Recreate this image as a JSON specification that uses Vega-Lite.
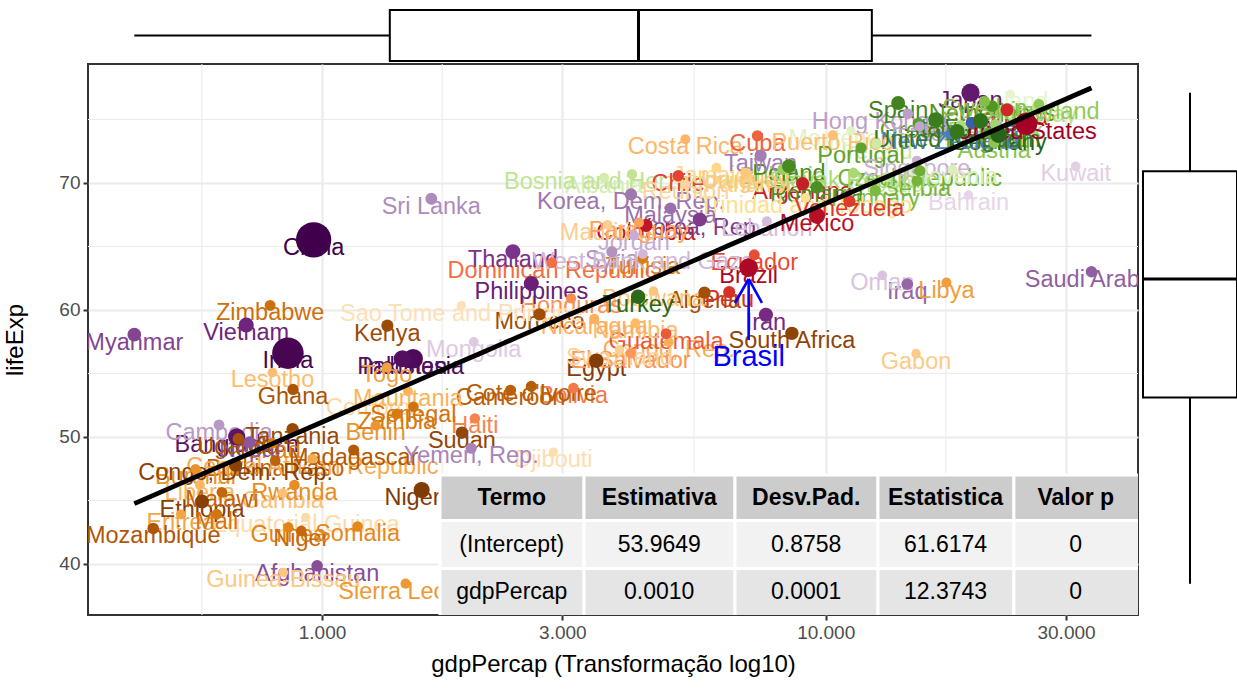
{
"$schema": "https://vega.github.io/schema/vega-lite/v6.json",
"background": "white",
"padding": {"left": 2, "top": 7, "right": 0, "bottom": 0},
"columns": 2,
"align": "each",
"bounds": "flush",
"spacing": {"row": 0, "column": 3},
"resolve": {"scale": {"x": "independent", "y": "independent", "color": "independent", "size": "independent"}},
"config": {
  "view": {"stroke": null},
  "font": "Liberation Sans",
  "axis": {"labelFont": "Liberation Sans", "titleFont": "Liberation Sans", "labelFontSize": 19, "labelColor": "#4D4D4D", "titleFontSize": 24, "titleFontWeight": "normal", "titleColor": "#000000", "tickColor": "#333333", "tickSize": 5, "tickWidth": 2, "domain": false, "gridColor": "#EBEBEB", "gridWidth": 2.2, "labelPadding": 3}
},
"datasets": {
  "countries": [
    {"country": "Afghanistan", "gdpPercap": 978.01, "lifeExp": 39.854, "pop": 12.88},
    {"country": "Albania", "gdpPercap": 3630.88, "lifeExp": 70.42, "pop": 2.78},
    {"country": "Algeria", "gdpPercap": 5745.16, "lifeExp": 61.368, "pop": 20.03},
    {"country": "Angola", "gdpPercap": 2756.95, "lifeExp": 39.942, "pop": 7.02},
    {"country": "Argentina", "gdpPercap": 8997.9, "lifeExp": 69.942, "pop": 29.34},
    {"country": "Australia", "gdpPercap": 19477.01, "lifeExp": 74.74, "pop": 15.18},
    {"country": "Austria", "gdpPercap": 21597.08, "lifeExp": 73.18, "pop": 7.57},
    {"country": "Bahrain", "gdpPercap": 19211.15, "lifeExp": 69.052, "pop": 0.38},
    {"country": "Bangladesh", "gdpPercap": 676.98, "lifeExp": 50.009, "pop": 93.07},
    {"country": "Belgium", "gdpPercap": 20979.85, "lifeExp": 73.93, "pop": 9.86},
    {"country": "Benin", "gdpPercap": 1277.9, "lifeExp": 50.904, "pop": 3.64},
    {"country": "Bolivia", "gdpPercap": 3156.51, "lifeExp": 53.859, "pop": 5.64},
    {"country": "Bosnia and Herzegovina", "gdpPercap": 4126.61, "lifeExp": 70.69, "pop": 4.17},
    {"country": "Botswana", "gdpPercap": 4551.14, "lifeExp": 61.484, "pop": 0.97},
    {"country": "Brazil", "gdpPercap": 7030.84, "lifeExp": 63.336, "pop": 128.96},
    {"country": "Bulgaria", "gdpPercap": 8224.19, "lifeExp": 71.08, "pop": 8.89},
    {"country": "Burkina Faso", "gdpPercap": 807.2, "lifeExp": 48.122, "pop": 6.63},
    {"country": "Burundi", "gdpPercap": 560.99, "lifeExp": 47.471, "pop": 4.58},
    {"country": "Cambodia", "gdpPercap": 624.48, "lifeExp": 50.957, "pop": 7.27},
    {"country": "Cameroon", "gdpPercap": 2367.98, "lifeExp": 53.678, "pop": 9.25},
    {"country": "Canada", "gdpPercap": 22898.79, "lifeExp": 75.76, "pop": 25.2},
    {"country": "Central African Republic", "gdpPercap": 956.75, "lifeExp": 48.295, "pop": 2.48},
    {"country": "Chad", "gdpPercap": 797.91, "lifeExp": 49.517, "pop": 4.88},
    {"country": "Chile", "gdpPercap": 5095.67, "lifeExp": 70.565, "pop": 11.49},
    {"country": "China", "gdpPercap": 962.42, "lifeExp": 65.525, "pop": 1000.28},
    {"country": "Colombia", "gdpPercap": 4397.58, "lifeExp": 66.653, "pop": 27.76},
    {"country": "Comoros", "gdpPercap": 1267.1, "lifeExp": 52.933, "pop": 0.42},
    {"country": "Congo, Dem. Rep.", "gdpPercap": 673.75, "lifeExp": 47.784, "pop": 30.65},
    {"country": "Congo, Rep.", "gdpPercap": 4879.51, "lifeExp": 57.47, "pop": 1.77},
    {"country": "Costa Rica", "gdpPercap": 5262.73, "lifeExp": 73.45, "pop": 2.42},
    {"country": "Cote d'Ivoire", "gdpPercap": 2602.66, "lifeExp": 53.983, "pop": 9.03},
    {"country": "Croatia", "gdpPercap": 13221.82, "lifeExp": 70.46, "pop": 4.41},
    {"country": "Cuba", "gdpPercap": 7316.92, "lifeExp": 73.717, "pop": 9.79},
    {"country": "Czech Republic", "gdpPercap": 15377.23, "lifeExp": 70.96, "pop": 10.3},
    {"country": "Denmark", "gdpPercap": 21688.04, "lifeExp": 74.63, "pop": 5.12},
    {"country": "Djibouti", "gdpPercap": 2879.47, "lifeExp": 48.812, "pop": 0.31},
    {"country": "Dominican Republic", "gdpPercap": 2861.09, "lifeExp": 63.727, "pop": 5.97},
    {"country": "Ecuador", "gdpPercap": 7213.79, "lifeExp": 64.342, "pop": 8.37},
    {"country": "Egypt", "gdpPercap": 3503.73, "lifeExp": 56.006, "pop": 45.68},
    {"country": "El Salvador", "gdpPercap": 4098.34, "lifeExp": 56.604, "pop": 4.47},
    {"country": "Equatorial Guinea", "gdpPercap": 927.83, "lifeExp": 43.662, "pop": 0.29},
    {"country": "Eritrea", "gdpPercap": 524.88, "lifeExp": 43.89, "pop": 2.64},
    {"country": "Ethiopia", "gdpPercap": 577.86, "lifeExp": 44.916, "pop": 38.11},
    {"country": "Finland", "gdpPercap": 18533.16, "lifeExp": 74.55, "pop": 4.83},
    {"country": "France", "gdpPercap": 20293.9, "lifeExp": 74.89, "pop": 54.43},
    {"country": "Gabon", "gdpPercap": 15113.36, "lifeExp": 56.564, "pop": 0.75},
    {"country": "Gambia", "gdpPercap": 835.81, "lifeExp": 45.58, "pop": 0.72},
    {"country": "Germany", "gdpPercap": 22031.53, "lifeExp": 73.8, "pop": 78.34},
    {"country": "Ghana", "gdpPercap": 876.03, "lifeExp": 53.744, "pop": 11.4},
    {"country": "Greece", "gdpPercap": 15268.42, "lifeExp": 74.7, "pop": 9.79},
    {"country": "Guatemala", "gdpPercap": 4820.49, "lifeExp": 58.137, "pop": 6.92},
    {"country": "Guinea", "gdpPercap": 857.25, "lifeExp": 42.891, "pop": 4.71},
    {"country": "Guinea-Bissau", "gdpPercap": 838.12, "lifeExp": 39.327, "pop": 0.83},
    {"country": "Haiti", "gdpPercap": 2011.16, "lifeExp": 51.461, "pop": 5.2},
    {"country": "Honduras", "gdpPercap": 3121.76, "lifeExp": 60.909, "pop": 3.67},
    {"country": "Hong Kong, China", "gdpPercap": 14560.53, "lifeExp": 75.45, "pop": 5.26},
    {"country": "Hungary", "gdpPercap": 12545.99, "lifeExp": 69.39, "pop": 10.71},
    {"country": "Iceland", "gdpPercap": 23269.61, "lifeExp": 76.99, "pop": 0.23},
    {"country": "India", "gdpPercap": 855.72, "lifeExp": 56.596, "pop": 708.0},
    {"country": "Indonesia", "gdpPercap": 1516.87, "lifeExp": 56.159, "pop": 153.34},
    {"country": "Iran", "gdpPercap": 7608.33, "lifeExp": 59.62, "pop": 43.07},
    {"country": "Iraq", "gdpPercap": 14517.91, "lifeExp": 62.038, "pop": 14.17},
    {"country": "Ireland", "gdpPercap": 12618.32, "lifeExp": 73.1, "pop": 3.48},
    {"country": "Israel", "gdpPercap": 15367.03, "lifeExp": 74.45, "pop": 3.86},
    {"country": "Italy", "gdpPercap": 16537.48, "lifeExp": 74.98, "pop": 56.54},
    {"country": "Jamaica", "gdpPercap": 6068.05, "lifeExp": 71.21, "pop": 2.3},
    {"country": "Japan", "gdpPercap": 19384.11, "lifeExp": 77.11, "pop": 118.45},
    {"country": "Jordan", "gdpPercap": 4161.42, "lifeExp": 65.869, "pop": 2.35},
    {"country": "Kenya", "gdpPercap": 1348.23, "lifeExp": 58.766, "pop": 17.66},
    {"country": "Korea, Dem. Rep.", "gdpPercap": 4106.53, "lifeExp": 69.1, "pop": 17.65},
    {"country": "Korea, Rep.", "gdpPercap": 5622.94, "lifeExp": 67.123, "pop": 39.33},
    {"country": "Kuwait", "gdpPercap": 31354.04, "lifeExp": 71.309, "pop": 1.5},
    {"country": "Lebanon", "gdpPercap": 7640.52, "lifeExp": 66.983, "pop": 3.09},
    {"country": "Lesotho", "gdpPercap": 797.26, "lifeExp": 55.078, "pop": 1.41},
    {"country": "Liberia", "gdpPercap": 572.2, "lifeExp": 46.218, "pop": 1.96},
    {"country": "Libya", "gdpPercap": 17364.28, "lifeExp": 62.155, "pop": 3.34},
    {"country": "Madagascar", "gdpPercap": 1155.44, "lifeExp": 48.97, "pop": 9.17},
    {"country": "Malawi", "gdpPercap": 632.8, "lifeExp": 45.642, "pop": 6.5},
    {"country": "Malaysia", "gdpPercap": 4920.36, "lifeExp": 68.0, "pop": 14.44},
    {"country": "Mali", "gdpPercap": 618.01, "lifeExp": 43.916, "pop": 7.0},
    {"country": "Mauritania", "gdpPercap": 1481.15, "lifeExp": 53.599, "pop": 1.62},
    {"country": "Mauritius", "gdpPercap": 3688.04, "lifeExp": 66.711, "pop": 0.99},
    {"country": "Mexico", "gdpPercap": 9611.15, "lifeExp": 67.405, "pop": 71.64},
    {"country": "Mongolia", "gdpPercap": 2000.6, "lifeExp": 57.489, "pop": 1.76},
    {"country": "Montenegro", "gdpPercap": 11222.59, "lifeExp": 74.101, "pop": 0.56},
    {"country": "Morocco", "gdpPercap": 2702.62, "lifeExp": 59.65, "pop": 20.2},
    {"country": "Mozambique", "gdpPercap": 462.21, "lifeExp": 42.795, "pop": 12.59},
    {"country": "Myanmar", "gdpPercap": 424.0, "lifeExp": 58.056, "pop": 34.68},
    {"country": "Namibia", "gdpPercap": 4191.1, "lifeExp": 58.968, "pop": 1.1},
    {"country": "Nepal", "gdpPercap": 718.37, "lifeExp": 49.594, "pop": 15.8},
    {"country": "Netherlands", "gdpPercap": 21399.46, "lifeExp": 76.05, "pop": 14.31},
    {"country": "New Zealand", "gdpPercap": 17632.41, "lifeExp": 73.84, "pop": 3.21},
    {"country": "Nicaragua", "gdpPercap": 3470.34, "lifeExp": 59.298, "pop": 2.98},
    {"country": "Niger", "gdpPercap": 909.72, "lifeExp": 42.598, "pop": 6.44},
    {"country": "Nigeria", "gdpPercap": 1576.97, "lifeExp": 45.826, "pop": 73.04},
    {"country": "Norway", "gdpPercap": 26298.64, "lifeExp": 75.97, "pop": 4.11},
    {"country": "Oman", "gdpPercap": 12954.79, "lifeExp": 62.728, "pop": 1.3},
    {"country": "Pakistan", "gdpPercap": 1443.43, "lifeExp": 56.158, "pop": 91.46},
    {"country": "Panama", "gdpPercap": 7009.6, "lifeExp": 70.472, "pop": 2.04},
    {"country": "Paraguay", "gdpPercap": 4258.5, "lifeExp": 66.874, "pop": 3.37},
    {"country": "Peru", "gdpPercap": 6434.5, "lifeExp": 61.406, "pop": 18.13},
    {"country": "Philippines", "gdpPercap": 2603.27, "lifeExp": 62.082, "pop": 53.46},
    {"country": "Poland", "gdpPercap": 8451.53, "lifeExp": 71.32, "pop": 36.23},
    {"country": "Portugal", "gdpPercap": 11753.84, "lifeExp": 72.77, "pop": 9.86},
    {"country": "Puerto Rico", "gdpPercap": 10330.99, "lifeExp": 73.75, "pop": 3.28},
    {"country": "Reunion", "gdpPercap": 5267.22, "lifeExp": 69.885, "pop": 0.52},
    {"country": "Romania", "gdpPercap": 9605.31, "lifeExp": 69.66, "pop": 22.36},
    {"country": "Rwanda", "gdpPercap": 881.57, "lifeExp": 46.218, "pop": 5.51},
    {"country": "Sao Tome and Principe", "gdpPercap": 1890.22, "lifeExp": 60.351, "pop": 0.1},
    {"country": "Saudi Arabia", "gdpPercap": 33693.18, "lifeExp": 63.012, "pop": 11.25},
    {"country": "Senegal", "gdpPercap": 1518.48, "lifeExp": 52.379, "pop": 6.15},
    {"country": "Serbia", "gdpPercap": 15181.09, "lifeExp": 70.162, "pop": 9.03},
    {"country": "Sierra Leone", "gdpPercap": 1465.01, "lifeExp": 38.445, "pop": 3.46},
    {"country": "Singapore", "gdpPercap": 15169.16, "lifeExp": 71.76, "pop": 2.65},
    {"country": "Slovak Republic", "gdpPercap": 11348.55, "lifeExp": 70.8, "pop": 5.05},
    {"country": "Slovenia", "gdpPercap": 17866.72, "lifeExp": 71.063, "pop": 1.86},
    {"country": "Somalia", "gdpPercap": 1176.81, "lifeExp": 42.955, "pop": 5.83},
    {"country": "South Africa", "gdpPercap": 8568.27, "lifeExp": 58.161, "pop": 31.14},
    {"country": "Spain", "gdpPercap": 13926.17, "lifeExp": 76.3, "pop": 37.98},
    {"country": "Sri Lanka", "gdpPercap": 1648.08, "lifeExp": 68.757, "pop": 15.41},
    {"country": "Sudan", "gdpPercap": 1895.54, "lifeExp": 50.338, "pop": 20.37},
    {"country": "Swaziland", "gdpPercap": 3895.38, "lifeExp": 56.867, "pop": 0.65},
    {"country": "Sweden", "gdpPercap": 20667.38, "lifeExp": 76.42, "pop": 8.33},
    {"country": "Switzerland", "gdpPercap": 26505.3, "lifeExp": 76.21, "pop": 6.47},
    {"country": "Syria", "gdpPercap": 3761.84, "lifeExp": 64.59, "pop": 9.41},
    {"country": "Taiwan", "gdpPercap": 7426.35, "lifeExp": 72.16, "pop": 18.5},
    {"country": "Tanzania", "gdpPercap": 874.24, "lifeExp": 50.608, "pop": 19.84},
    {"country": "Thailand", "gdpPercap": 2393.22, "lifeExp": 64.597, "pop": 52.0},
    {"country": "Togo", "gdpPercap": 1344.58, "lifeExp": 55.471, "pop": 2.64},
    {"country": "Trinidad and Tobago", "gdpPercap": 9119.53, "lifeExp": 68.832, "pop": 1.12},
    {"country": "Tunisia", "gdpPercap": 4332.72, "lifeExp": 64.048, "pop": 6.73},
    {"country": "Turkey", "gdpPercap": 4241.36, "lifeExp": 61.036, "pop": 47.33},
    {"country": "Uganda", "gdpPercap": 682.27, "lifeExp": 49.849, "pop": 12.94},
    {"country": "United Kingdom", "gdpPercap": 18232.42, "lifeExp": 74.04, "pop": 56.34},
    {"country": "United States", "gdpPercap": 25009.56, "lifeExp": 74.65, "pop": 232.19},
    {"country": "Uruguay", "gdpPercap": 6920.22, "lifeExp": 70.805, "pop": 2.95},
    {"country": "Venezuela", "gdpPercap": 11152.41, "lifeExp": 68.557, "pop": 15.62},
    {"country": "Vietnam", "gdpPercap": 707.24, "lifeExp": 58.816, "pop": 56.14},
    {"country": "West Bank and Gaza", "gdpPercap": 4336.03, "lifeExp": 64.406, "pop": 1.5},
    {"country": "Yemen, Rep.", "gdpPercap": 1977.56, "lifeExp": 49.113, "pop": 9.66},
    {"country": "Zambia", "gdpPercap": 1408.68, "lifeExp": 51.821, "pop": 6.1},
    {"country": "Zimbabwe", "gdpPercap": 788.86, "lifeExp": 60.363, "pop": 7.64}
  ],
  "minorx": [{"gdpPercap": 577.4}, {"gdpPercap": 1732}, {"gdpPercap": 5477}, {"gdpPercap": 17321}],
  "minory": [{"lifeExp": 45}, {"lifeExp": 55}, {"lifeExp": 65}, {"lifeExp": 75}],
  "arrow": [
    {"gdpPercap": 7031, "lifeExp": 57.63, "gdpPercap2": 7031, "lifeExp2": 62.44},
    {"gdpPercap": 6605, "lifeExp": 60.55, "gdpPercap2": 7031, "lifeExp2": 62.44},
    {"gdpPercap": 7472, "lifeExp": 60.55, "gdpPercap2": 7031, "lifeExp2": 62.44}
  ],
  "note": [{"gdpPercap": 7031, "lifeExp": 55.59, "label": "Brasil"}],
  "table": [
    {"part": "header", "x1": 1715, "x2": 3313, "y1": 43.42, "y2": 47.0, "xm": 2381, "ym": 45.21, "label": "Termo"},
    {"part": "header", "x1": 3313, "x2": 6605, "y1": 43.42, "y2": 47.0, "xm": 4672, "ym": 45.21, "label": "Estimativa"},
    {"part": "header", "x1": 6605, "x2": 12700, "y1": 43.42, "y2": 47.0, "xm": 9147, "ym": 45.21, "label": "Desv.Pad."},
    {"part": "header", "x1": 12700, "x2": 23640, "y1": 43.42, "y2": 47.0, "xm": 17290, "ym": 45.21, "label": "Estatistica"},
    {"part": "header", "x1": 23640, "x2": 44000, "y1": 43.42, "y2": 47.0, "xm": 31360, "ym": 45.21, "label": "Valor p"},
    {"part": "row1", "x1": 1715, "x2": 3313, "y1": 39.64, "y2": 43.42, "xm": 2381, "ym": 41.53, "label": "(Intercept)"},
    {"part": "row1", "x1": 3313, "x2": 6605, "y1": 39.64, "y2": 43.42, "xm": 4672, "ym": 41.53, "label": "53.9649"},
    {"part": "row1", "x1": 6605, "x2": 12700, "y1": 39.64, "y2": 43.42, "xm": 9147, "ym": 41.53, "label": "0.8758"},
    {"part": "row1", "x1": 12700, "x2": 23640, "y1": 39.64, "y2": 43.42, "xm": 17290, "ym": 41.53, "label": "61.6174"},
    {"part": "row1", "x1": 23640, "x2": 44000, "y1": 39.64, "y2": 43.42, "xm": 31360, "ym": 41.53, "label": "0"},
    {"part": "row2", "x1": 1715, "x2": 3313, "y1": 35.5, "y2": 39.64, "xm": 2381, "ym": 37.81, "label": "gdpPercap"},
    {"part": "row2", "x1": 3313, "x2": 6605, "y1": 35.5, "y2": 39.64, "xm": 4672, "ym": 37.81, "label": "0.0010"},
    {"part": "row2", "x1": 6605, "x2": 12700, "y1": 35.5, "y2": 39.64, "xm": 9147, "ym": 37.81, "label": "0.0001"},
    {"part": "row2", "x1": 12700, "x2": 23640, "y1": 35.5, "y2": 39.64, "xm": 17290, "ym": 37.81, "label": "12.3743"},
    {"part": "row2", "x1": 23640, "x2": 44000, "y1": 35.5, "y2": 39.64, "xm": 31360, "ym": 37.81, "label": "0"}
  ]
},
"concat": [
  {
    "data": {"name": "countries"},
    "width": 1050,
    "height": 57,
    "mark": {"type": "boxplot", "extent": "min-max", "size": 51, "ticks": false,
      "box": {"fill": "white", "stroke": "black", "strokeWidth": 2},
      "median": {"color": "black", "thickness": 3, "opacity": 1},
      "rule": {"color": "black", "strokeWidth": 2}},
    "encoding": {
      "x": {"field": "gdpPercap", "type": "quantitative", "scale": {"type": "log", "domain": [343.1, 41687], "nice": false}, "axis": null}
    }
  },
  {
    "data": {"values": [{"a": 1}]},
    "width": 98,
    "height": 57,
    "mark": {"type": "point", "opacity": 0}
  },
  {
    "width": 1050,
    "height": 551,
    "view": {"stroke": "#333333", "strokeWidth": 2},
    "layer": [
      {
        "data": {"name": "minorx"},
        "mark": {"type": "rule", "color": "#EBEBEB", "strokeWidth": 1.1},
        "encoding": {"x": {"field": "gdpPercap", "type": "quantitative", "scale": {"type": "log", "domain": [343.1, 41687], "nice": false}}}
      },
      {
        "data": {"name": "minory"},
        "mark": {"type": "rule", "color": "#EBEBEB", "strokeWidth": 1.1},
        "encoding": {"y": {"field": "lifeExp", "type": "quantitative", "scale": {"domain": [35.98, 79.37], "nice": false, "zero": false}}}
      },
      {
        "data": {"name": "countries"},
        "encoding": {
          "x": {"field": "gdpPercap", "type": "quantitative", "scale": {"type": "log", "domain": [343.1, 41687], "nice": false},
            "axis": {"values": [1000, 3000, 10000, 30000], "labelExpr": "replace(format(datum.value, ',d'), ',', '.')", "title": "gdpPercap (Transformação log10)", "grid": true, "titlePadding": 10}},
          "y": {"field": "lifeExp", "type": "quantitative", "scale": {"domain": [35.98, 79.37], "nice": false, "zero": false},
            "axis": {"values": [40, 50, 60, 70], "title": "lifeExp", "grid": true, "titlePadding": 31}},
          "color": {"field": "country", "type": "nominal", "legend": null,
            "scale": {
              "domain": ["Nigeria","Egypt","Ethiopia","Congo, Dem. Rep.","South Africa","Sudan","Tanzania","Kenya","Morocco","Algeria","Uganda","Ghana","Mozambique","Madagascar","Cote d'Ivoire","Cameroon","Burkina Faso","Malawi","Niger","Angola","Zimbabwe","Senegal","Mali","Zambia","Tunisia","Chad","Guinea","Somalia","Rwanda","Burundi","Benin","Sierra Leone","Libya","Togo","Eritrea","Central African Republic","Congo, Rep.","Mauritania","Liberia","Namibia","Lesotho","Gambia","Botswana","Guinea-Bissau","Gabon","Mauritius","Swaziland","Reunion","Comoros","Equatorial Guinea","Djibouti","Sao Tome and Principe",
                "United States","Brazil","Mexico","Colombia","Argentina","Canada","Peru","Venezuela","Chile","Ecuador","Guatemala","Cuba","Dominican Republic","Bolivia","Haiti","Honduras","El Salvador","Paraguay","Nicaragua","Costa Rica","Puerto Rico","Uruguay","Panama","Jamaica","Trinidad and Tobago",
                "China","India","Indonesia","Pakistan","Bangladesh","Japan","Philippines","Vietnam","Iran","Thailand","Korea, Rep.","Myanmar","Afghanistan","Nepal","Saudi Arabia","Iraq","Malaysia","Korea, Dem. Rep.","Taiwan","Yemen, Rep.","Sri Lanka","Syria","Cambodia","Hong Kong, China","Israel","Jordan","Singapore","West Bank and Gaza","Lebanon","Oman","Mongolia","Kuwait","Bahrain",
                "Germany","Turkey","France","United Kingdom","Italy","Spain","Poland","Romania","Netherlands","Greece","Portugal","Belgium","Czech Republic","Serbia","Hungary","Sweden","Austria","Switzerland","Bulgaria","Denmark","Slovak Republic","Finland","Norway","Bosnia and Herzegovina","Croatia","Ireland","Albania","Slovenia","Montenegro","Iceland",
                "Australia","New Zealand"],
              "range": ["#7F3B08","#833D08","#874008","#8B4208","#8F4407","#934607","#974907","#9C4B07","#A04D07","#A44F07","#A85206","#AC5406","#B05606","#B45906","#B75C07","#BB5F08","#BE630A","#C2660B","#C6690C","#C96D0D","#CD700E","#D0730F","#D47610","#D77A11","#DB7D12","#DE8013","#E18417","#E3881D","#E68D23","#E8912A","#EA9530","#EC9936","#EF9E3C","#F1A242","#F3A649","#F6AA4F","#F8AF55","#FAB35B","#FCB761","#FDBA68","#FDBD6E","#FDC175","#FDC47B","#FDC782","#FDCA88","#FDCD8F","#FED095","#FED39C","#FED7A2","#FEDAA9","#FEDDAF","#FEE0B6",
                "#A50026","#AD0826","#B61026","#BE1826","#C62027","#CF2827","#D73027","#DC3A2C","#E14430","#E64E35","#EA593A","#EF633E","#F46D43","#F67848","#F7834D","#F98E52","#FA9857","#FCA35C","#FDAE61","#FDB669","#FDBF71","#FEC779","#FECF80","#FED888","#FEE090",
                "#40004B","#470552","#4E0B59","#541060","#5B1567","#621A6E","#692075","#6F257C","#762A83","#7A3388","#7F3C8D","#834492","#884D97","#8C569C","#905FA1","#9567A6","#9970AB","#9E77AF","#A37DB4","#A884B8","#AE8BBD","#B391C1","#B898C6","#BD9ECA","#C2A5CF","#C7ABD2","#CBB1D5","#D0B7D8","#D5BDDC","#D9C3DF","#DEC8E2","#E2CEE5","#E7D4E8",
                "#276419","#2C6A1A","#31711B","#37771C","#3C7D1D","#41841F","#468A20","#4C9021","#529624","#599C29","#60A22D","#67A832","#6EAE36","#75B33A","#7CB93F","#83BF46","#8BC44F","#93C959","#9BCE62","#A2D36C","#AAD875","#B2DD7F","#BAE289","#C0E493","#C6E79D","#CDEAA7","#D3EDB1","#D9EFBB","#E0F2C6","#E6F5D0",
                "#3D5EAA","#4A7BC4"]
            }}
        },
        "layer": [
          {"mark": {"type": "text", "fontSize": 23.5, "baseline": "alphabetic", "align": "center", "dy": 15, "clip": true},
           "encoding": {"text": {"field": "country", "type": "nominal"}}},
          {"mark": {"type": "circle", "opacity": 1, "clip": true},
           "encoding": {"size": {"field": "pop", "type": "quantitative", "legend": null, "scale": {"type": "pow", "exponent": 0.72, "zero": false, "range": [85, 1250]}}}}
        ]
      },
      {
        "data": {"name": "countries"},
        "transform": [{"regression": "lifeExp", "on": "gdpPercap", "method": "log"}],
        "mark": {"type": "line", "color": "black", "strokeWidth": 4.8},
        "encoding": {
          "x": {"field": "gdpPercap", "type": "quantitative", "scale": {"type": "log", "domain": [343.1, 41687], "nice": false}},
          "y": {"field": "lifeExp", "type": "quantitative", "scale": {"domain": [35.98, 79.37], "nice": false, "zero": false}}
        }
      },
      {
        "data": {"name": "arrow"},
        "mark": {"type": "rule", "color": "#0000FF", "strokeWidth": 2.6},
        "encoding": {
          "x": {"field": "gdpPercap", "type": "quantitative", "scale": {"type": "log", "domain": [343.1, 41687], "nice": false}},
          "x2": {"field": "gdpPercap2"},
          "y": {"field": "lifeExp", "type": "quantitative", "scale": {"domain": [35.98, 79.37], "nice": false, "zero": false}},
          "y2": {"field": "lifeExp2"}
        }
      },
      {
        "data": {"name": "note"},
        "mark": {"type": "text", "fontSize": 29, "color": "#0000FF", "baseline": "alphabetic", "align": "center"},
        "encoding": {
          "x": {"field": "gdpPercap", "type": "quantitative", "scale": {"type": "log", "domain": [343.1, 41687], "nice": false}},
          "y": {"field": "lifeExp", "type": "quantitative", "scale": {"domain": [35.98, 79.37], "nice": false, "zero": false}},
          "text": {"field": "label", "type": "nominal"}
        }
      },
      {
        "data": {"name": "table"},
        "mark": {"type": "rect", "stroke": "white", "strokeWidth": 3, "clip": true},
        "encoding": {
          "x": {"field": "x1", "type": "quantitative", "scale": {"type": "log", "domain": [343.1, 41687], "nice": false}},
          "x2": {"field": "x2"},
          "y": {"field": "y1", "type": "quantitative", "scale": {"domain": [35.98, 79.37], "nice": false, "zero": false}},
          "y2": {"field": "y2"},
          "fill": {"field": "part", "type": "nominal", "legend": null, "scale": {"domain": ["header", "row1", "row2"], "range": ["#CCCCCC", "#F2F2F2", "#E5E5E5"]}}
        }
      },
      {
        "data": {"name": "table"},
        "transform": [{"filter": "datum.part === 'header'"}],
        "mark": {"type": "text", "fontSize": 23, "fontWeight": "bold", "color": "black", "baseline": "middle", "align": "center"},
        "encoding": {
          "x": {"field": "xm", "type": "quantitative", "scale": {"type": "log", "domain": [343.1, 41687], "nice": false}},
          "y": {"field": "ym", "type": "quantitative", "scale": {"domain": [35.98, 79.37], "nice": false, "zero": false}},
          "text": {"field": "label", "type": "nominal"}
        }
      },
      {
        "data": {"name": "table"},
        "transform": [{"filter": "datum.part !== 'header'"}],
        "mark": {"type": "text", "fontSize": 23, "color": "black", "baseline": "middle", "align": "center"},
        "encoding": {
          "x": {"field": "xm", "type": "quantitative", "scale": {"type": "log", "domain": [343.1, 41687], "nice": false}},
          "y": {"field": "ym", "type": "quantitative", "scale": {"domain": [35.98, 79.37], "nice": false, "zero": false}},
          "text": {"field": "label", "type": "nominal"}
        }
      }
    ]
  },
  {
    "data": {"name": "countries"},
    "width": 98,
    "height": 551,
    "mark": {"type": "boxplot", "extent": "min-max", "size": 94, "ticks": false,
      "box": {"fill": "white", "stroke": "black", "strokeWidth": 2},
      "median": {"color": "black", "thickness": 3, "opacity": 1},
      "rule": {"color": "black", "strokeWidth": 2}},
    "encoding": {
      "y": {"field": "lifeExp", "type": "quantitative", "scale": {"domain": [35.98, 79.37], "nice": false, "zero": false}, "axis": null}
    }
  }
]
}
